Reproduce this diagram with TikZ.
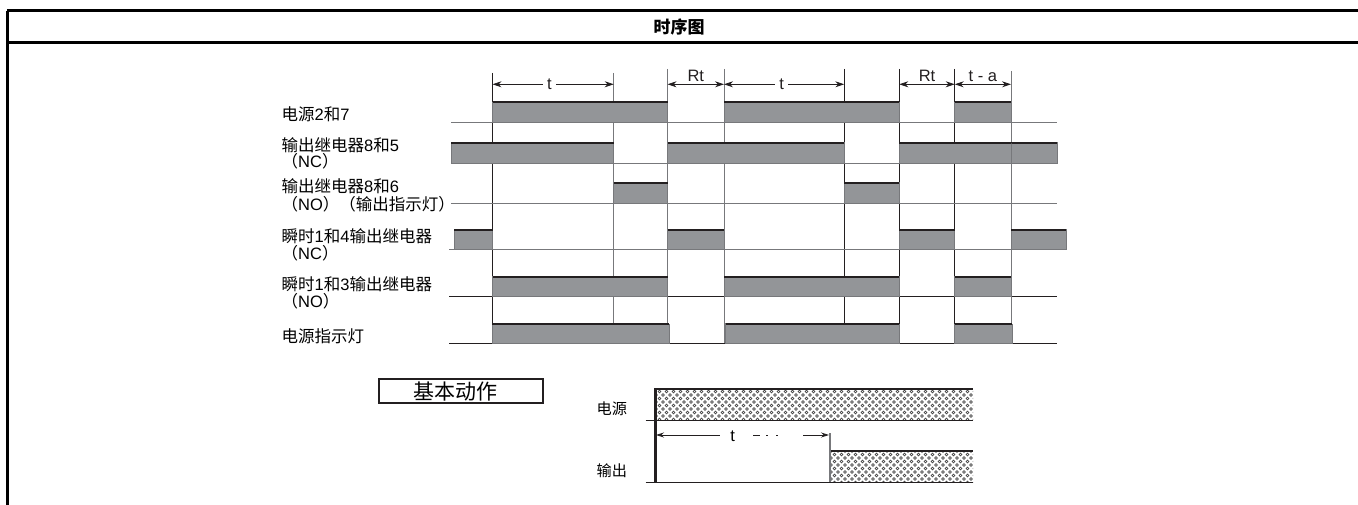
\documentclass[tikz,border=0pt]{standalone}
\usepackage{fontspec}
\setmainfont{Liberation Sans}
\newfontfamily\cjk{Noto Sans CJK SC}
\newcommand{\zh}[1]{{\cjk #1}}
\usetikzlibrary{arrows.meta,patterns}
\definecolor{blockgray}{HTML}{939598}
\definecolor{ruledark}{HTML}{231F20}
\definecolor{rulegray}{HTML}{77787B}
\pgfdeclarepatternformonly{ringdots}{\pgfqpoint{-1pt}{-1pt}}{\pgfqpoint{8pt}{8pt}}{\pgfqpoint{7pt}{7pt}}{
  \pgfsetlinewidth{0.6pt}
  \pgfpathcircle{\pgfqpoint{1.5pt}{1.5pt}}{1.35pt}
  \pgfpathcircle{\pgfqpoint{5pt}{5pt}}{1.35pt}
  \pgfusepath{stroke}
}
\tikzset{
  frameline/.style={line width=3pt,black},
  rowlabel/.style={anchor=west,inner sep=0pt,font=\fontsize{16.5}{17}\selectfont},
  dimlabel/.style={inner sep=0pt,font=\fontsize{16.5}{17}\selectfont},
  dimline/.style={ruledark,line width=0.8pt,{Stealth[length=9pt,width=6pt]}-{Stealth[length=9pt,width=6pt]}},
  pulsefill/.style={fill=blockgray,draw=rulegray,line width=0.9pt},
  pulsetop/.style={ruledark,line width=2pt},
  dotfill/.style={pattern=ringdots,pattern color=black!70},
}
\newcommand{\pulse}[4]{%
  \path[pulsefill] (#1,#3) rectangle (#2,#4);
  \draw[pulsetop] (#1,#3) -- (#2,#3);
}
\begin{document}
\begin{tikzpicture}[x=1pt,y=-1pt]
\useasboundingbox (0,0) rectangle (1358,505);
% frame and title
\coordinate (fa) at (7,10.5);
\coordinate (fb) at (1358,10.5);
\coordinate (fc) at (7,42.5);
\coordinate (fd) at (1358,42.5);
\draw[frameline] (fa) -- (fb);
\draw[frameline] (fc) -- (fd);
\draw[frameline] (7.5,11) -- (7.5,505);
\node[inner sep=0pt,font=\fontsize{17}{18}\selectfont\bfseries\cjk] (title) at (679,26.5) {时序图};
% time lines
\foreach \x/\ya/\yb/\col in {492.5/73/343/ruledark,613.7/73/324/rulegray,667.5/69/343/rulegray,724/69/343/rulegray,844.3/69/324/ruledark,899.3/69/343/ruledark,954.7/69/343/ruledark,1011/71/343/rulegray}
  \draw[\col,line width=0.9pt] (\x,\ya) -- (\x,\yb);
% base lines
\foreach \xa/\y/\col in {451/122/rulegray,451/163/rulegray,451/203/rulegray,449/249.5/rulegray,449/296.3/ruledark,449/343.3/ruledark}
  \draw[\col,line width=0.9pt] (\xa,\y) -- (1057,\y);
% pulses
\foreach \xa/\xb in {492.5/667.5,724/899.3,954.7/1011} {
  \pulse{\xa}{\xb}{102}{122}
  \pulse{\xa}{\xb}{276.7}{296.3}
}
\foreach \xa/\xb in {451/613.7,667.5/844.3,899.3/1057}
  \pulse{\xa}{\xb}{142.7}{163}
\foreach \xa/\xb in {613.7/667.5,844.3/899.3}
  \pulse{\xa}{\xb}{182.7}{203}
\foreach \xa/\xb in {454/492.5,667.5/724,899.3/954.7,1011/1066}
  \pulse{\xa}{\xb}{229.7}{249.5}
\foreach \xa/\xb in {492/669.3,725.7/899.3,954.7/1012.3}
  \pulse{\xa}{\xb}{324.3}{343.3}
\draw[rulegray,line width=0.9pt] (1011,143.7) -- (1011,163);
% dimension arrows
\foreach \n/\x in {0/492.5,1/613.7,2/667.5,3/724,4/844.3,5/899.3,6/954.7,7/1011}
  \coordinate (d\n) at (\x,84.3);
\draw[dimline] (d0) -- node[dimlabel,pos=.47,fill=white,inner xsep=4pt] (ta) {t} (d1);
\draw[dimline] (d2) -- node[dimlabel,above=2.5pt] (ra) {Rt} (d3);
\draw[dimline] (d3) -- node[dimlabel,pos=.48,fill=white,inner xsep=4pt] (tb) {t} (d4);
\draw[dimline] (d5) -- node[dimlabel,above=2.5pt] (rb) {Rt} (d6);
\draw[dimline] (d6) -- node[dimlabel,above=2.5pt] (tc) {t - a} (d7);
% row labels
\node[rowlabel] (la) at (281.5,114) {\zh{电源}2\zh{和}7};
\node[rowlabel] (lb) at (281.5,145) {\zh{输出继电器}8\zh{和}5};
\node[rowlabel] (lc) at (281.5,161.7) {\zh{（}NC\zh{）}};
\node[rowlabel] (ld) at (281.5,186.7) {\zh{输出继电器}8\zh{和}6};
\node[rowlabel] (le) at (281.5,204) {\zh{（}NO\zh{）（输出指示灯）}};
\node[rowlabel] (lf) at (281.5,236) {\zh{瞬时}1\zh{和}4\zh{输出继电器}};
\node[rowlabel] (lg) at (281.5,253) {\zh{（}NC\zh{）}};
\node[rowlabel] (lh) at (281.5,284) {\zh{瞬时}1\zh{和}3\zh{输出继电器}};
\node[rowlabel] (li) at (281.5,301.7) {\zh{（}NO\zh{）}};
\node[rowlabel] (lj) at (281.5,336.7) {\zh{电源指示灯}};
% basic operation
\node[draw=ruledark,line width=2pt,minimum width=164pt,minimum height=24pt,inner sep=0pt,font=\fontsize{21}{22}\selectfont\cjk] (basic) at (461.3,391.2) {基本动作\kern11pt};
\node[rowlabel,font=\fontsize{15.2}{16}\selectfont\cjk] (pa) at (596.5,409) {电源};
\node[rowlabel,font=\fontsize{15.2}{16}\selectfont\cjk] (pb) at (596.5,471) {输出};
\fill[dotfill] (655,389) rectangle (973,420.3);
\fill[dotfill] (830,451) rectangle (973,482.3);
\draw[ruledark,line width=0.9pt] (645.7,420.3) -- (973,420.3);
\draw[ruledark,line width=0.9pt] (645.7,482.3) -- (973,482.3);
\draw[ruledark,line width=2.4pt] (655.5,482.3) -- (655.5,389) -- (973,389);
\draw[ruledark,line width=2pt] (830,451) -- (973,451);
\draw[rulegray,line width=1.2pt] (830,433) -- (830,482.3);
\coordinate (ea) at (656,435);
\coordinate (eb) at (720,435);
\coordinate (ec) at (753,435);
\coordinate (ed) at (803,435);
\coordinate (ee) at (829,435);
\draw[ruledark,line width=0.8pt,{Stealth[length=8pt,width=5pt]}-] (ea) -- (eb);
\draw[ruledark,line width=0.8pt,dash pattern=on 7pt off 6pt on 2pt off 8pt on 2pt off 25pt] (ec) -- (ed);
\draw[ruledark,line width=0.8pt,-{Stealth[length=8pt,width=5pt]}] (ed) -- (ee);
\node[dimlabel] (tt) at (732.7,436) {t};
\end{tikzpicture}
\end{document}
